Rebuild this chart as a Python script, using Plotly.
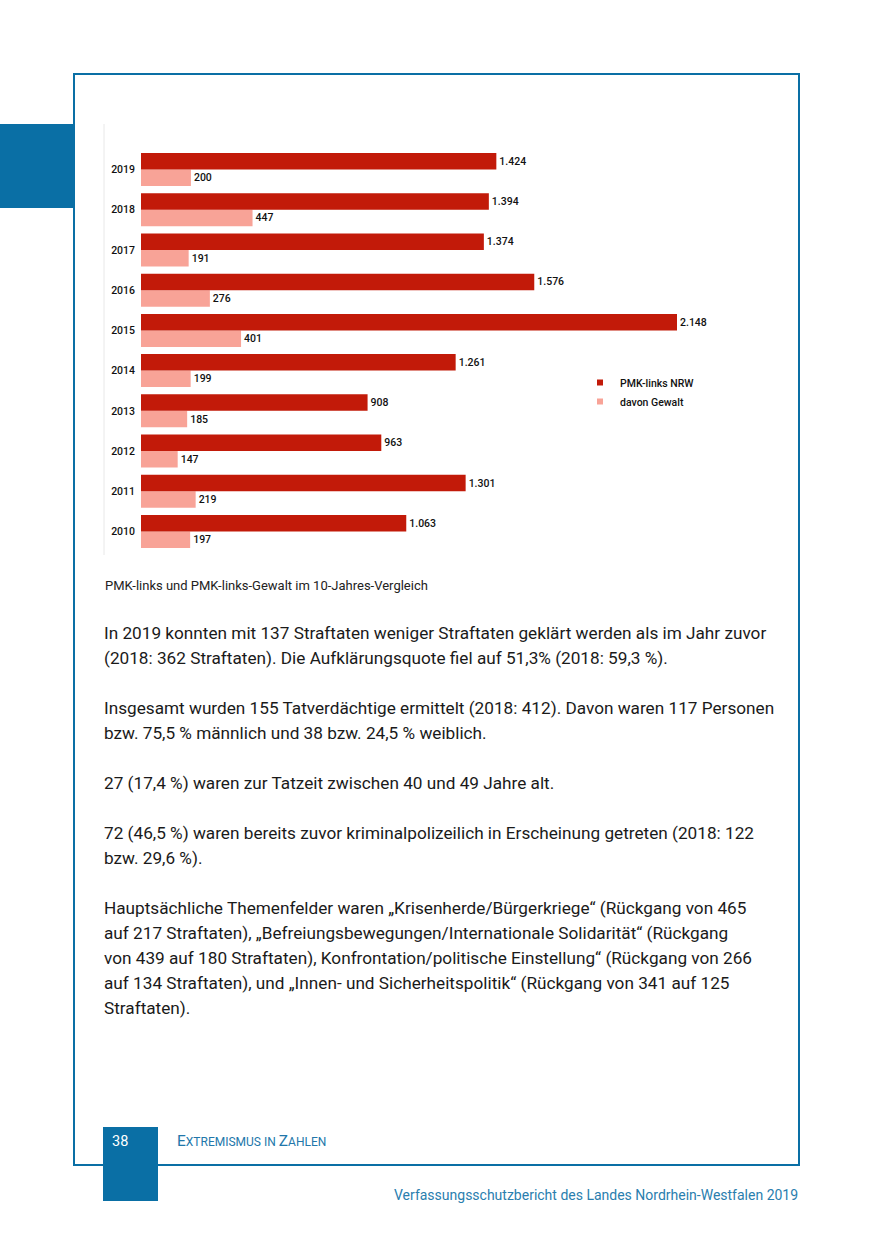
import plotly.graph_objects as go

W, H = 875, 1241

years = ["2010", "2011", "2012", "2013", "2014", "2015", "2016", "2017", "2018", "2019"]
pmk_links = [1063, 1301, 963, 908, 1261, 2148, 1576, 1374, 1394, 1424]
davon_gewalt = [197, 219, 147, 185, 199, 401, 276, 191, 447, 200]
series_names = ["PMK-links NRW", "davon Gewalt"]
caption = "PMK-links und PMK-links-Gewalt im 10-Jahres-Vergleich"
body_lines = [
    "In 2019 konnten mit 137 Straftaten weniger Straftaten geklärt werden als im Jahr zuvor",
    "(2018: 362 Straftaten). Die Aufklärungsquote fiel auf 51,3% (2018: 59,3 %).",
    "",
    "Insgesamt wurden 155 Tatverdächtige ermittelt (2018: 412). Davon waren 117 Personen",
    "bzw. 75,5 % männlich und 38 bzw. 24,5 % weiblich.",
    "",
    "27 (17,4 %) waren zur Tatzeit zwischen 40 und 49 Jahre alt.",
    "",
    "72 (46,5 %) waren bereits zuvor kriminalpolizeilich in Erscheinung getreten (2018: 122",
    "bzw. 29,6 %).",
    "",
    "Hauptsächliche Themenfelder waren „Krisenherde/Bürgerkriege“ (Rückgang von 465",
    "auf 217 Straftaten), „Befreiungsbewegungen/Internationale Solidarität“ (Rückgang",
    "von 439 auf 180 Straftaten), Konfrontation/politische Einstellung“ (Rückgang von 266",
    "auf 134 Straftaten), und „Innen- und Sicherheitspolitik“ (Rückgang von 341 auf 125",
    "Straftaten).",
]
page_number = "38"
footer_right = "Verfassungsschutzbericht des Landes Nordrhein-Westfalen 2019"

RED = "#c21a09"
PINK = "#f8a397"
BLUE = "#0a6fa5"
FONT = "Roboto"


def de(v):
    return f"{v:,}".replace(",", ".")


def px_x(p):
    return p / W


def px_y(p):
    return 1 - p / H


fig = go.Figure()
# pink first -> drawn lower in each group (horizontal grouping)
fig.add_trace(go.Bar(
    y=years, x=davon_gewalt, orientation="h", name=series_names[1],
    marker=dict(color=PINK, line=dict(width=0)),
    text=[de(v) for v in davon_gewalt], textposition="outside",
    textfont=dict(family=FONT, size=10.5, color="#111", weight=500),
    cliponaxis=False, showlegend=False, hoverinfo="skip",
))
fig.add_trace(go.Bar(
    y=years, x=pmk_links, orientation="h", name=series_names[0],
    marker=dict(color=RED, line=dict(width=0)),
    text=[de(v) for v in pmk_links], textposition="outside",
    textfont=dict(family=FONT, size=10.5, color="#111", weight=500),
    cliponaxis=False, showlegend=False, hoverinfo="skip",
))
# legend entries with small square markers
for name, col in zip(series_names, [RED, PINK]):
    fig.add_trace(go.Scatter(
        x=[None], y=[None], mode="markers", name=name,
        marker=dict(symbol="square", size=6, color=col),
        showlegend=True,
    ))

px_per_unit = 536 / 2148
plot_left, plot_right = 141, 741
plot_top, plot_bottom = 149.4, 551.6

fig.update_layout(
    width=W, height=H,
    margin=dict(l=0, r=0, t=0, b=0),
    paper_bgcolor="white", plot_bgcolor="white",
    barmode="group", bargap=0.18, bargroupgap=0,
    font=dict(family=FONT, color="#111"),
    xaxis=dict(domain=[px_x(plot_left), px_x(plot_right)],
               range=[0, (plot_right - plot_left) / px_per_unit],
               visible=False, fixedrange=True),
    yaxis=dict(domain=[px_y(plot_bottom), px_y(plot_top)],
               type="category", categoryorder="array", categoryarray=years,
               showgrid=False, zeroline=False, showline=False,
               ticks="", ticklabelstandoff=5,
               tickfont=dict(family=FONT, size=10.5, color="#111", weight=500)),
    legend=dict(x=px_x(580), y=px_y(368), xanchor="left", yanchor="top",
                bgcolor="rgba(0,0,0,0)", itemwidth=30,
                font=dict(family=FONT, size=10.5, color="#111", weight=500),
                tracegroupgap=0),
    showlegend=True,
)

shapes = []
# frame
shapes.append(dict(type="rect", xref="paper", yref="paper",
                   x0=px_x(74), x1=px_x(799), y0=px_y(1165), y1=px_y(74),
                   line=dict(color=BLUE, width=2), fillcolor="rgba(0,0,0,0)", layer="below"))
# left tab block
shapes.append(dict(type="rect", xref="paper", yref="paper",
                   x0=0, x1=px_x(75), y0=px_y(208), y1=px_y(124),
                   line=dict(width=0), fillcolor=BLUE, layer="below"))
# page number block
shapes.append(dict(type="rect", xref="paper", yref="paper",
                   x0=px_x(103), x1=px_x(158), y0=px_y(1201), y1=px_y(1127),
                   line=dict(width=0), fillcolor=BLUE, layer="below"))
# light chart frame line
shapes.append(dict(type="line", xref="paper", yref="paper",
                   x0=px_x(104), x1=px_x(104), y0=px_y(555), y1=px_y(124),
                   line=dict(color="#e8e8e8", width=1), layer="below"))
fig.update_layout(shapes=shapes)

ann = []
ann.append(dict(text=caption, x=px_x(102.5), y=px_y(585), xref="paper", yref="paper",
                xanchor="left", yanchor="middle", showarrow=False,
                font=dict(family=FONT, size=13, color="#222")))
y0 = 633
for i, line in enumerate(body_lines):
    if not line:
        continue
    ann.append(dict(text=line, x=px_x(102), y=px_y(y0 + 25 * i), xref="paper", yref="paper",
                    xanchor="left", yanchor="middle", showarrow=False,
                    font=dict(family=FONT, size=17.2, color="#1a1a1a")))
ann.append(dict(text=page_number, x=px_x(110), y=px_y(1141), xref="paper", yref="paper",
                xanchor="left", yanchor="middle", showarrow=False,
                font=dict(family=FONT, size=14.5, color="white")))
small = "font-size:12px"
ann.append(dict(text=f"E<span style='{small}'>XTREMISMUS IN </span>Z<span style='{small}'>AHLEN</span>",
                x=px_x(175), y=px_y(1141), xref="paper", yref="paper",
                xanchor="left", yanchor="middle", showarrow=False,
                font=dict(family=FONT, size=15.5, color="#2277aa")))
ann.append(dict(text=footer_right, x=px_x(800), y=px_y(1195), xref="paper", yref="paper",
                xanchor="right", yanchor="middle", showarrow=False,
                font=dict(family=FONT, size=14, color="#2a7eae")))
fig.update_layout(annotations=ann)

fig.write_html(
    "out.html",
    config={"displayModeBar": False},
    post_script="document.body.style.margin='0';document.body.style.padding='0';"
                "document.documentElement.style.overflow='hidden';",
)
